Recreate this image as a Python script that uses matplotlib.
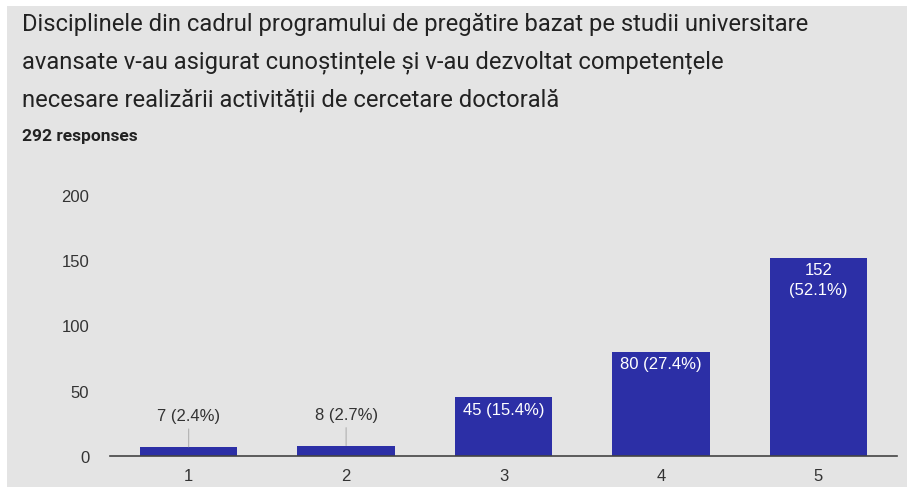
import matplotlib
matplotlib.use("Agg")
import matplotlib.pyplot as plt

categories = ["1", "2", "3", "4", "5"]
counts = [7, 8, 45, 80, 152]
percents = [2.4, 2.7, 15.4, 27.4, 52.1]
yticks = [0, 50, 100, 150, 200]
title_lines = [
    "Disciplinele din cadrul programului de pregătire bazat pe studii universitare",
    "avansate v-au asigurat cunoștințele și v-au dezvoltat competențele",
    "necesare realizării activității de cercetare doctorală",
]
subtitle = "292 responses"

plt.rcParams['font.family'] = ['Roboto', 'DejaVu Sans']
LAB = ['Liberation Sans', 'DejaVu Sans']
BG = '#e4e4e4'
BAR = '#2c2fa6'
TXT = '#333333'

fig = plt.figure(figsize=(9.07, 4.89), dpi=100, facecolor='white')
fig.patches.append(plt.Rectangle((7/907, 1/489), 1, 1 - 8/489, transform=fig.transFigure,
                                 facecolor=BG, edgecolor='none', zorder=-10))

ax = fig.add_axes([110/907, 1 - 457/489, (897 - 110)/907, (457 - 196)/489])
ax.set_facecolor('none')
x = list(range(len(categories)))
bars = ax.bar(x, counts, width=0.62, color=BAR, zorder=2)
ax.set_xlim(-0.5, 4.5)
ax.set_ylim(0, 200)
ax.set_yticks(yticks)
ax.set_xticks(x)
ax.set_xticklabels(categories)
for s in ['top', 'right', 'left']:
    ax.spines[s].set_visible(False)
ax.spines['bottom'].set_color('#444444')
ax.spines['bottom'].set_linewidth(1.2)
ax.spines['bottom'].set_zorder(3)
ax.tick_params(axis='both', length=0, labelsize=12, colors=TXT)
for lbl in ax.get_xticklabels() + ax.get_yticklabels():
    lbl.set_family(LAB)
ax.tick_params(axis='y', pad=15)
ax.tick_params(axis='x', pad=9)

for xi, c, p in zip(x, counts, percents):
    if c < 20:
        ax.annotate(f"{c} ({p}%)", xy=(xi, c), xytext=(xi, c + 18),
                    ha='center', va='bottom', fontsize=12, color=TXT, family=LAB,
                    arrowprops=dict(arrowstyle='-', color='#aaaaaa', lw=0.7,
                                    shrinkA=2, shrinkB=0))
    elif c > 120:
        ax.text(xi, c - 3.5, f"{c}\n({p}%)", ha='center', va='top', fontsize=12,
                color='white', linespacing=1.4, family=LAB)
    else:
        ax.text(xi, c - 3.5, f"{c} ({p}%)", ha='center', va='top', fontsize=12,
                color='white', family=LAB)

for i, line in enumerate(title_lines):
    fig.text(22/907, 1 - (31 + i * 37.5)/489, line, fontsize=17.1, color='#222222',
             ha='left', va='baseline')
fig.text(22/907, 1 - 141/489, subtitle, fontsize=12.5, color='#222222',
         fontweight='bold', ha='left', va='baseline')

fig.savefig("out.png", dpi=100, facecolor=fig.get_facecolor())
